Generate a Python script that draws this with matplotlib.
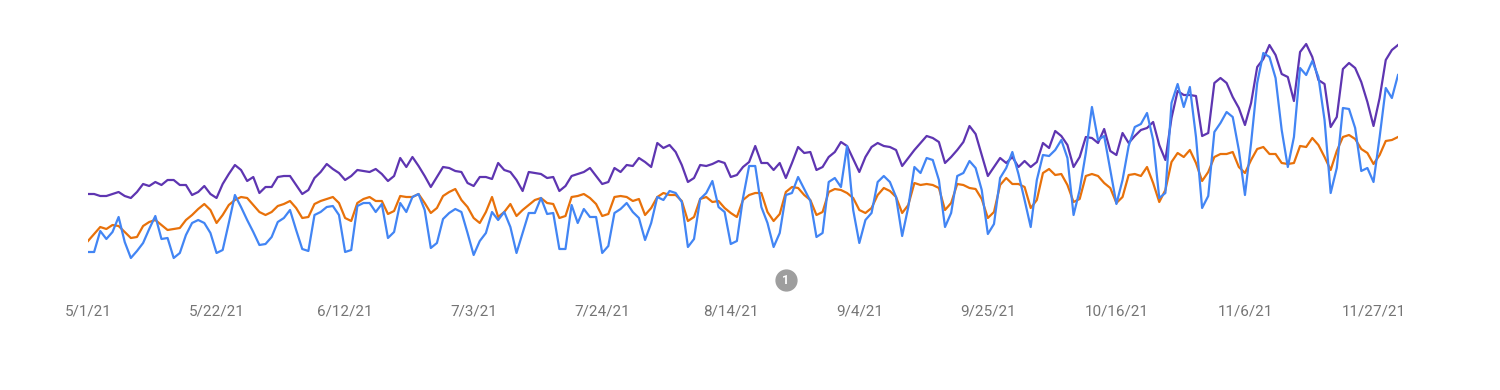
import numpy as np
import pandas as pd
import matplotlib
matplotlib.use("Agg")
from matplotlib import pyplot as plt

# daily values (relative units, no y axis shown)
dates = pd.date_range("2021-05-01", periods=215, freq="D")

impressions = [
    106, 106, 104, 104, 106, 108, 104, 102, 108, 116, 114, 118, 115, 120, 120, 115, 115, 105, 108, 114,
    106, 102, 116, 126, 135, 130, 119, 123, 107, 113, 113, 123, 124, 124, 115, 106, 110, 122, 128, 136,
    131, 127, 120, 124, 130, 129, 128, 131, 126, 119, 124, 142, 133, 143, 134, 124, 113, 123, 133, 132,
    129, 128, 117, 114, 123, 123, 121, 137, 130, 128, 120, 109, 128, 127, 126, 122, 123, 109, 114, 124,
    126, 128, 132, 124, 116, 118, 132, 128, 135, 134, 142, 138, 133, 157, 152, 155, 148, 135, 118, 122,
    135, 134, 136, 139, 137, 123, 125, 133, 138, 154, 137, 137, 130, 137, 122, 137, 153, 147, 148, 130,
    133, 143, 148, 158, 154, 141, 128, 143, 153, 157, 154, 153, 150, 134, 142, 150, 157, 164, 162, 158,
    137, 143, 150, 158, 174, 166, 145, 124, 133, 142, 137, 143, 133, 139, 133, 138, 157, 152, 169, 164,
    155, 133, 143, 163, 162, 157, 171, 149, 145, 167, 157, 164, 170, 172, 178, 155, 140, 182, 209, 205,
    205, 204, 164, 167, 217, 222, 217, 203, 192, 175, 197, 233, 241, 255, 245, 226, 223, 199, 248, 256,
    243, 220, 216, 173, 183, 231, 237, 232, 218, 198, 174, 202, 240, 250, 255,
]

position = [
    59, 66, 73, 71, 75, 74, 68, 62, 63, 74, 78, 80, 75, 70, 71, 72, 80, 85, 91, 96,
    90, 77, 85, 95, 100, 103, 102, 95, 88, 85, 88, 94, 96, 99, 92, 82, 83, 96, 99, 101,
    103, 97, 82, 79, 97, 101, 103, 99, 99, 86, 89, 104, 103, 103, 106, 97, 87, 92, 104, 108,
    111, 100, 93, 82, 77, 88, 103, 83, 88, 96, 84, 90, 95, 100, 102, 97, 96, 82, 84, 103,
    104, 106, 102, 96, 84, 86, 103, 104, 103, 99, 101, 85, 92, 103, 107, 105, 105, 99, 79, 83,
    101, 103, 98, 99, 92, 87, 83, 100, 105, 107, 107, 88, 79, 86, 108, 113, 112, 105, 100, 85,
    88, 108, 111, 110, 107, 102, 90, 87, 92, 105, 112, 109, 103, 87, 95, 117, 115, 116, 115, 112,
    90, 97, 116, 115, 112, 111, 101, 82, 88, 115, 122, 116, 116, 113, 92, 100, 127, 131, 125, 126,
    115, 98, 101, 124, 126, 124, 117, 112, 97, 103, 125, 126, 124, 133, 117, 98, 110, 138, 147, 143,
    150, 137, 119, 128, 143, 146, 146, 148, 133, 127, 140, 151, 153, 146, 146, 137, 136, 137, 154, 153,
    162, 155, 143, 130, 149, 163, 165, 161, 151, 147, 136, 145, 159, 160, 163,
]

clicks = [
    48, 48, 69, 61, 68, 83, 58, 42, 49, 57, 71, 84, 61, 62, 42, 47, 65, 77, 80, 77,
    67, 47, 50, 77, 105, 93, 80, 68, 55, 56, 63, 78, 82, 90, 70, 51, 49, 85, 88, 93,
    94, 85, 48, 50, 94, 97, 97, 88, 96, 62, 68, 97, 88, 103, 106, 90, 52, 57, 81, 87,
    91, 88, 67, 45, 59, 67, 88, 80, 88, 73, 47, 67, 87, 87, 102, 86, 87, 51, 51, 95,
    77, 91, 83, 83, 47, 54, 87, 91, 97, 88, 82, 60, 77, 103, 100, 109, 107, 98, 53, 61,
    101, 107, 119, 93, 88, 56, 59, 102, 134, 134, 93, 77, 53, 67, 105, 107, 123, 111, 99, 63,
    67, 118, 122, 113, 154, 90, 57, 80, 87, 118, 124, 118, 103, 64, 93, 133, 127, 142, 140, 120,
    73, 87, 124, 127, 139, 132, 110, 66, 76, 122, 132, 148, 126, 100, 73, 120, 145, 144, 150, 160,
    142, 85, 110, 147, 193, 160, 164, 130, 96, 120, 154, 173, 176, 187, 160, 102, 107, 197, 216, 193,
    213, 163, 92, 104, 168, 177, 188, 183, 150, 105, 157, 217, 247, 243, 222, 170, 133, 163, 232, 225,
    239, 223, 180, 107, 132, 192, 191, 172, 129, 132, 118, 163, 212, 202, 225,
]

tick_dates = pd.date_range("2021-05-01", "2021-11-27", freq="21D")
tick_labels = ["5/1/21", "5/22/21", "6/12/21", "7/3/21", "7/24/21", "8/14/21",
               "9/4/21", "9/25/21", "10/16/21", "11/6/21", "11/27/21"]
annotation_date = pd.Timestamp("2021-08-23")
annotation_label = "1"

fig = plt.figure(figsize=(15, 3.9), dpi=100)
ax = fig.add_axes([88 / 1500, 120 / 390, 1310 / 1500, 240 / 390])

ax.plot(dates, impressions, color="#5e35b1", lw=1.6)
ax.plot(dates, position, color="#e8710a", lw=1.6)
ax.plot(dates, clicks, color="#4285f4", lw=1.6)

ax.set_xlim(dates[0], dates[-1])
ax.set_ylim(30, 270)
ax.set_xticks(tick_dates)
ax.set_xticklabels(tick_labels, fontsize=11, color="#757575", family="Roboto")
ax.tick_params(axis="x", length=0, pad=25)
ax.set_yticks([])
for s in ax.spines.values():
    s.set_visible(False)

# event marker below the plot
ax.plot([annotation_date], [20], "o", ms=15, color="#9e9e9e", clip_on=False)
ax.text(annotation_date, 20, annotation_label, color="white", fontsize=9, fontweight="bold",
        ha="center", va="center", family="Roboto", clip_on=False)

fig.savefig("out.png", dpi=100)
